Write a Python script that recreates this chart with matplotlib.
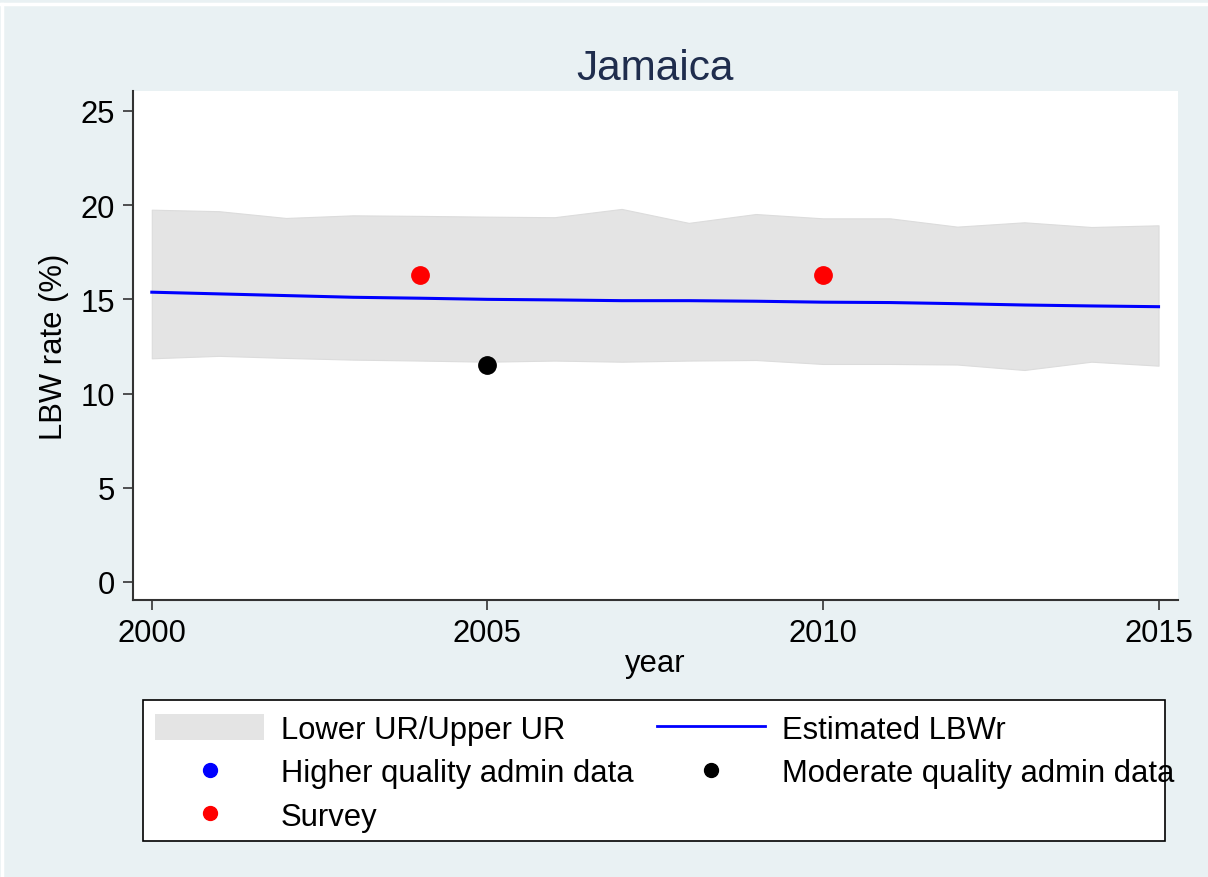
import numpy as np
import matplotlib.pyplot as plt
from matplotlib.lines import Line2D
from matplotlib.patches import Patch, Rectangle

plt.rcParams['font.family'] = ['Liberation Sans', 'DejaVu Sans']

# Data
years = list(range(2000, 2016))
lower_ur = [11.87, 12.00, 11.89, 11.80, 11.75, 11.69, 11.75, 11.69,
            11.75, 11.78, 11.57, 11.57, 11.54, 11.25, 11.69, 11.48]
upper_ur = [19.76, 19.68, 19.32, 19.46, 19.43, 19.39, 19.36, 19.80,
            19.06, 19.53, 19.30, 19.30, 18.86, 19.09, 18.84, 18.93]
estimated = [15.38, 15.29, 15.20, 15.11, 15.06, 15.00, 14.97, 14.93,
             14.93, 14.90, 14.85, 14.83, 14.77, 14.70, 14.65, 14.61]

survey_years = [2004, 2010]
survey_vals = [16.29, 16.29]
moderate_years = [2005]
moderate_vals = [11.52]
higher_years = []
higher_vals = []

bg = '#e9f1f3'
band_col = '#e4e4e4'
fs = 22.3

W, H = 1208, 878
fig = plt.figure(figsize=(W / 100, H / 100), dpi=100, facecolor=bg)
ax = fig.add_axes([133 / W, 1 - 601 / H, (1178 - 133) / W, (601 - 92) / H])
ax.set_facecolor('white')

ax.fill_between(years, lower_ur, upper_ur, color=band_col, linewidth=0.8, edgecolor='#dcdcdc')
ax.plot(years, estimated, color='#0000ff', lw=2.2)
ax.plot(higher_years, higher_vals, 'o', color='#0000ff', ms=12.5)
ax.plot(moderate_years, moderate_vals, 'o', color='black', ms=12.5)
ax.plot(survey_years, survey_vals, 'o', color='#ff0000', ms=12.5)

ax.set_xlim(1999.72, 2015.29)
ax.set_ylim(-0.96, 26.06)
ax.set_xticks([2000, 2005, 2010, 2015])
ax.set_yticks([0, 5, 10, 15, 20, 25])
ax.tick_params(axis='both', labelsize=fs, length=7, width=1.2, color='#333333', pad=6)
for s in ['top', 'right']:
    ax.spines[s].set_visible(False)
for s in ['left', 'bottom']:
    ax.spines[s].set_color('#333333')
    ax.spines[s].set_linewidth(1.5)

ax.set_xlabel('year', fontsize=fs, labelpad=0)
ax.set_ylabel('LBW rate (%)', fontsize=fs, labelpad=8)
ax.set_title('Jamaica', fontsize=30.5, color='#1f2d4d', pad=9)

# legend frame (text may run past it, as in the original)
fig.add_artist(Rectangle((143 / W, 1 - 842 / H), (1165 - 143) / W, (842 - 701) / H,
                         transform=fig.transFigure, facecolor='white',
                         edgecolor='black', lw=1.2, zorder=1))

handles = [
    Patch(facecolor=band_col, edgecolor='none'),
    Line2D([], [], marker='o', ls='none', color='#0000ff', ms=10),
    Line2D([], [], marker='o', ls='none', color='#ff0000', ms=10),
    Line2D([], [], color='#0000ff', lw=2),
    Line2D([], [], marker='o', ls='none', color='black', ms=10),
]
labels = ['Lower UR/Upper UR', 'Higher quality admin data', 'Survey',
          'Estimated LBWr', 'Moderate quality admin data']
leg = fig.legend(handles, labels, ncol=2, loc='upper left',
                 bbox_to_anchor=(143 / W, 1 - 703 / H),
                 fontsize=fs, frameon=False, handlelength=3.5, handleheight=0.9,
                 handletextpad=0.55, labelspacing=0.42, borderpad=0.4,
                 columnspacing=0.75, borderaxespad=0)
leg.set_zorder(2)

# thin white border lines from the original screenshot
fig.add_artist(Line2D([0, 1], [1 - 5 / H, 1 - 5 / H], color='white', lw=2.5))
fig.add_artist(Line2D([2 / W, 2 / W], [0, 1 - 5 / H], color='white', lw=2.5))

fig.savefig('out.png', dpi=100, facecolor=bg)
